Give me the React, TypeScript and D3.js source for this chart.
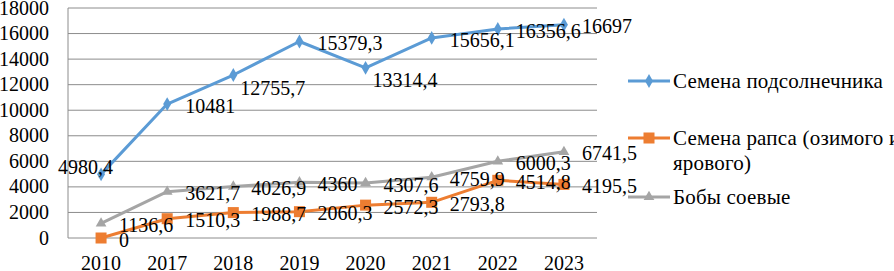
import * as d3 from "d3";

const YEARS = ["2010", "2017", "2018", "2019", "2020", "2021", "2022", "2023"];
const SUNFLOWER = [4980.4, 10481, 12755.7, 15379.3, 13314.4, 15656.1, 16356.6, 16697];
const RAPESEED = [0, 1510.3, 1988.7, 2060.3, 2572.3, 2793.8, 4514.8, 4195.5];
const SOY = [1136.6, 3621.7, 4026.9, 4360, 4307.6, 4759.9, 6000.3, 6741.5];
const Y_TICKS = [0, 2000, 4000, 6000, 8000, 10000, 12000, 14000, 16000, 18000];

// label placement per point: r = right, a = above-left, b = below-right
const SUNFLOWER_POS = ["a", "r", "b", "r", "b", "r", "r", "r"];

const W = 894, H = 271;
const margin = { top: 8, right: 297, bottom: 33, left: 68 };
const FONT = "'Liberation Serif', 'Times New Roman', serif";
const txt = { fontFamily: FONT, fontSize: 20 };
const legendTxt = { fontFamily: FONT, fontSize: 21, letterSpacing: 0.2 };

type Series = { name: string[]; values: number[]; color: string; marker: string; pos?: string[] };

const SERIES: Series[] = [
  { name: ["Семена подсолнечника"], values: SUNFLOWER, color: "#5B9BD5", marker: "diamond", pos: SUNFLOWER_POS },
  { name: ["Семена рапса (озимого и", "ярового)"], values: RAPESEED, color: "#ED7D31", marker: "square" },
  { name: ["Бобы соевые"], values: SOY, color: "#A5A5A5", marker: "triangle" },
];

const fmt = (v: number) => String(v).replace(".", ",");

function Marker({ kind, x, y, color }: { kind: string; x: number; y: number; color: string }) {
  if (kind === "diamond") {
    const s = d3.symbol(d3.symbolDiamond, 55)();
    return <path d={s || ""} transform={`translate(${x},${y})`} fill={color} />;
  }
  if (kind === "square") {
    return <rect x={x - 5.5} y={y - 5.5} width={11} height={11} fill={color} />;
  }
  const t = d3.symbol(d3.symbolTriangle, 50)();
  return <path d={t || ""} transform={`translate(${x},${y})`} fill={color} />;
}

export default function App() {
  const x = d3.scaleBand().domain(YEARS).range([margin.left, W - margin.right]);
  const y = d3.scaleLinear().domain([0, 18000]).range([H - margin.bottom, margin.top]);
  const cx = (d: string) => (x(d) as number) + x.bandwidth() / 2;
  const line = d3.line<number>().x((_, i) => cx(YEARS[i])).y(v => y(v));

  const legendX = 628;
  const legendY = [81, 138, 197];

  return (
    <svg width={W} height={H} style={{ position: "absolute", left: 0, top: 0, background: "#fff" }}>
      {Y_TICKS.map(t => (
        <g key={t}>
          <line x1={margin.left} x2={W - margin.right} y1={y(t)} y2={y(t)} stroke="#8c8c8c" strokeWidth={1} />
          <text x={49} y={y(t)} dy="0.33em" textAnchor="end" fill="#000" style={txt}>{t}</text>
        </g>
      ))}
      <line x1={margin.left} x2={margin.left} y1={y(0)} y2={y(18000)} stroke="#8c8c8c" strokeWidth={1} />
      {YEARS.map(d => (
        <text key={d} x={cx(d)} y={270} textAnchor="middle" fill="#000" style={txt}>{d}</text>
      ))}

      {SERIES.map(s => (
        <g key={s.color}>
          <path d={line(s.values) || ""} fill="none" stroke={s.color} strokeWidth={3} strokeLinejoin="round" />
          {s.values.map((v, i) => (
            <Marker key={i} kind={s.marker} x={cx(YEARS[i])} y={y(v)} color={s.color} />
          ))}
        </g>
      ))}

      {SERIES.map(s => (
        <g key={"l" + s.color}>
          {s.values.map((v, i) => {
            const p = s.pos ? s.pos[i] : "r";
            const px = cx(YEARS[i]), py = y(v);
            let lx = px + 18, ly = py + 2;
            if (p === "a") { lx = px - 43; ly = py - 7; }
            if (p === "b") { lx = px + 7; ly = py + 13; }
            return (
              <text key={i} x={lx} y={ly} dy="0.33em" fill="#000" style={txt}>{fmt(v)}</text>
            );
          })}
        </g>
      ))}

      {SERIES.map((s, k) => (
        <g key={"lg" + s.color}>
          <line x1={legendX} x2={legendX + 42} y1={legendY[k]} y2={legendY[k]} stroke={s.color} strokeWidth={3} />
          <Marker kind={s.marker} x={legendX + 21} y={legendY[k]} color={s.color} />
          {s.name.map((n, j) => (
            <text key={j} x={legendX + 45} y={legendY[k] + j * 25} dy="0.33em" fill="#000" style={legendTxt}>{n}</text>
          ))}
        </g>
      ))}
    </svg>
  );
}
